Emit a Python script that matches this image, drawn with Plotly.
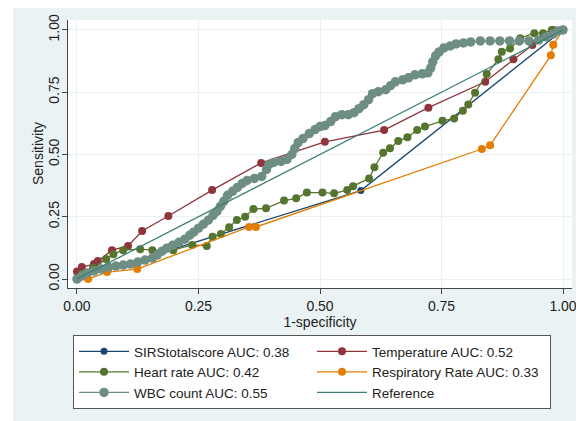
import plotly.graph_objects as go

# ---------------- data ----------------
sirs_x = [0.0, 0.584, 1.0]
sirs_y = [0.0, 0.355, 1.0]

temp_x = [0.0, 0.0, 0.01, 0.035, 0.043, 0.072, 0.105, 0.134, 0.188, 0.278, 0.379,
          0.510, 0.632, 0.723, 0.840, 0.898, 0.937, 0.98, 1.0]
temp_y = [0.0, 0.03, 0.048, 0.06, 0.072, 0.116, 0.133, 0.193, 0.253, 0.357, 0.466,
          0.551, 0.598, 0.688, 0.792, 0.882, 0.940, 1.0, 1.0]

hr_x = [0.0, 0.01, 0.033, 0.06, 0.075, 0.095, 0.13, 0.155, 0.198, 0.237, 0.267,
        0.279, 0.296, 0.313, 0.329, 0.346, 0.363, 0.389, 0.426, 0.451, 0.473,
        0.505, 0.529, 0.556, 0.568, 0.601, 0.612, 0.630, 0.644, 0.661, 0.680,
        0.700, 0.716, 0.752, 0.776, 0.794, 0.805, 0.819, 0.843, 0.867, 0.874,
        0.891, 0.912, 0.941, 0.959, 0.977, 1.0]
hr_y = [0.0, 0.02, 0.044, 0.08, 0.10, 0.116, 0.12, 0.116, 0.116, 0.137, 0.133,
        0.170, 0.181, 0.208, 0.237, 0.250, 0.281, 0.284, 0.315, 0.324, 0.347,
        0.347, 0.344, 0.357, 0.373, 0.404, 0.449, 0.507, 0.525, 0.554, 0.569,
        0.598, 0.612, 0.635, 0.645, 0.676, 0.701, 0.748, 0.823, 0.882, 0.913,
        0.926, 0.967, 0.987, 0.987, 1.0, 1.0]

rr_x = [0.0, 0.023, 0.062, 0.124, 0.354, 0.368, 0.833, 0.850, 0.975, 0.980, 1.0]
rr_y = [0.0, 0.0, 0.028, 0.040, 0.209, 0.209, 0.522, 0.537, 0.898, 0.941, 1.0]

wbc_x = [0.0, 0.01, 0.02, 0.035, 0.05, 0.065, 0.08, 0.095, 0.11, 0.125, 0.14,
         0.155, 0.165, 0.175, 0.185, 0.197, 0.21, 0.222, 0.232, 0.24, 0.25,
         0.26, 0.27, 0.28, 0.288, 0.295, 0.302, 0.31, 0.32, 0.33, 0.34, 0.35,
         0.365, 0.38, 0.39, 0.395, 0.405, 0.42, 0.432, 0.442, 0.448, 0.455,
         0.465, 0.478, 0.49, 0.5, 0.51, 0.522, 0.532, 0.545, 0.558, 0.57,
         0.58, 0.59, 0.6, 0.608, 0.62, 0.635, 0.645, 0.655, 0.67, 0.682,
         0.695, 0.71, 0.722, 0.728, 0.732, 0.738, 0.745, 0.755, 0.768, 0.78,
         0.795, 0.81, 0.83, 0.85, 0.87, 0.89, 0.91, 0.93, 0.95, 0.965, 0.98,
         0.99, 1.0]
wbc_y = [0.0, 0.012, 0.024, 0.032, 0.04, 0.048, 0.052, 0.056, 0.06, 0.068, 0.076,
         0.084, 0.096, 0.112, 0.124, 0.136, 0.148, 0.16, 0.176, 0.188, 0.204,
         0.22, 0.236, 0.256, 0.272, 0.292, 0.312, 0.336, 0.352, 0.368, 0.384, 0.396,
         0.404, 0.412, 0.44, 0.46, 0.468, 0.472, 0.48, 0.5, 0.524, 0.548,
         0.564, 0.584, 0.6, 0.612, 0.616, 0.632, 0.652, 0.66, 0.66, 0.668,
         0.684, 0.7, 0.72, 0.744, 0.752, 0.76, 0.776, 0.792, 0.8, 0.808,
         0.82, 0.824, 0.828, 0.848, 0.872, 0.896, 0.912, 0.928, 0.936, 0.944,
         0.948, 0.952, 0.956, 0.956, 0.956, 0.956, 0.956, 0.956, 0.96, 0.972, 0.984,
         0.996, 1.0]

ref_x = [0.0, 1.0]
ref_y = [0.0, 1.0]

names = ["SIRStotalscore AUC: 0.38", "Temperature AUC: 0.52", "Heart rate AUC: 0.42",
         "Respiratory Rate AUC: 0.33", "WBC count AUC: 0.55", "Reference"]
x_title = "1-specificity"
y_title = "Sensitivity"
tick_vals = [0.0, 0.25, 0.5, 0.75, 1.0]
tick_text = ["0.00", "0.25", "0.50", "0.75", "1.00"]

colors = ["#1a476f", "#90353b", "#55752f", "#e37e00", "#6e8e84", "#3a7f78"]

# ---------------- figure ----------------
fig = go.Figure()
series = [(sirs_x, sirs_y, 7), (temp_x, temp_y, 8), (hr_x, hr_y, 8),
          (rr_x, rr_y, 8), (wbc_x, wbc_y, 9.5)]
for (xs, ys, ms), name, col in zip(series, names[:5], colors[:5]):
    fig.add_trace(go.Scatter(x=xs, y=ys, mode="lines+markers", name=name,
                             line=dict(color=col, width=1.3),
                             marker=dict(color=col, size=ms)))
fig.add_trace(go.Scatter(x=ref_x, y=ref_y, mode="lines", name=names[5],
                         line=dict(color=colors[5], width=1.3)))

# page has an 8px body margin; figure coordinates = page coordinates - 8
OFF = 8
W, H = 584 - OFF, 421 - OFF
L, R, T, B = 68 - OFF, 12, 20 - OFF, 133
pw, ph = W - L - R, H - T - B

def px_to_paper_x(page_px):
    return (page_px - OFF - L) / pw

def px_to_paper_y(page_py):
    return (H - B - (page_py - OFF)) / ph

FONT = "Liberation Sans, Arial"
axis_common = dict(
    tickvals=tick_vals, ticktext=tick_text,
    showgrid=True, gridcolor="#e8f0f1", gridwidth=1,
    zeroline=False, showline=True, linecolor="#444444", linewidth=1,
    ticks="outside", ticklen=5, tickcolor="#444444",
    tickfont=dict(family=FONT, size=14, color="#222222"),
)

fig.update_layout(
    width=W, height=H,
    margin=dict(l=L, r=R, t=T, b=B, autoexpand=False),
    paper_bgcolor="#eaf2f3", plot_bgcolor="white",
    font=dict(family=FONT, size=14, color="#222222"),
    xaxis=dict(range=[-0.0185, 1.0185],
               title=dict(text=x_title, standoff=2,
                          font=dict(size=14, color="#222222")),
               **axis_common),
    yaxis=dict(range=[-0.036, 1.040], tickangle=-90, ticklabelstandoff=-3,
               **axis_common),
    legend=dict(orientation="h", x=px_to_paper_x(73), xanchor="left",
                y=px_to_paper_y(335), yanchor="top",
                entrywidth=173, entrywidthmode="pixels", itemwidth=50,
                bgcolor="white", bordercolor="#555555", borderwidth=1,
                font=dict(family=FONT, size=13.5, color="#222222"),
                tracegroupgap=0),
    annotations=[
        dict(text=y_title, textangle=-90, xref="paper", yref="paper",
             x=px_to_paper_x(38), y=0.5, xanchor="center", yanchor="middle",
             showarrow=False, font=dict(family=FONT, size=14, color="#222222")),
    ],
    shapes=[
        dict(type="rect", xref="paper", yref="paper",
             x0=px_to_paper_x(-5), x1=px_to_paper_x(13),
             y0=px_to_paper_y(440), y1=px_to_paper_y(-5),
             fillcolor="white", line=dict(width=0)),
    ],
)

fig.write_html("out.html")
